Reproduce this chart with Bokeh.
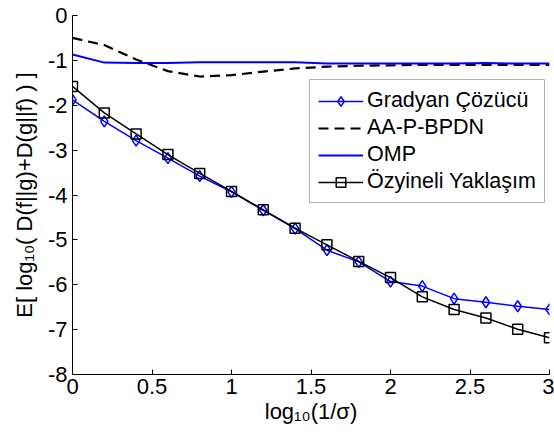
from bokeh.plotting import figure
from bokeh.models import Range1d, FixedTicker, Legend, LegendItem
from bokeh.embed import file_html
from bokeh.resources import INLINE

# ---- data ----
x_vals = [0.0, 0.2, 0.4, 0.6, 0.8, 1.0, 1.2, 1.4, 1.6, 1.8, 2.0, 2.2, 2.4, 2.6, 2.8, 3.0]
gradyan = [-1.88, -2.36, -2.79, -3.18, -3.58, -3.93, -4.34, -4.75, -5.23, -5.49,
           -5.93, -6.03, -6.31, -6.39, -6.48, -6.55]
aa_p_bpdn = [-0.50, -0.66, -0.98, -1.24, -1.36, -1.33, -1.25, -1.18, -1.14, -1.12,
             -1.11, -1.10, -1.10, -1.10, -1.10, -1.10]
omp = [-0.87, -1.05, -1.06, -1.06, -1.04, -1.04, -1.04, -1.04, -1.07, -1.07,
       -1.07, -1.07, -1.07, -1.06, -1.07, -1.07]
ozyineli = [-1.58, -2.17, -2.64, -3.10, -3.52, -3.92, -4.33, -4.74, -5.11, -5.48,
            -5.84, -6.27, -6.55, -6.74, -6.99, -7.18]

series_names = ["Gradyan Çözücü", "AA-P-BPDN", "OMP", "Özyineli Yaklaşım"]
x_ticks = [0, 0.5, 1, 1.5, 2, 2.5, 3]
x_tick_labels = ["0", "0.5", "1", "1.5", "2", "2.5", "3"]
y_ticks = [-8, -7, -6, -5, -4, -3, -2, -1, 0]
y_tick_labels = ["-8", "-7", "-6", "-5", "-4", "-3", "-2", "-1", "0"]
x_title = "log\u2081\u2080(1/σ)"
y_title = "E[ log\u2081\u2080( D(f||g)+D(g||f) ) ]"

FONT = "Liberation Sans"
BLUE = "#0000ff"

p = figure(width=554, height=437,
           x_range=Range1d(0, 3), y_range=Range1d(-8, 0),
           output_backend="svg", toolbar_location=None,
           min_border_left=72, min_border_right=5,
           min_border_top=15, min_border_bottom=63)
p.xgrid.visible = False
p.ygrid.visible = False
p.outline_line_color = None
p.background_fill_color = "white"
p.border_fill_color = "white"

for ax in (p.xaxis[0], p.yaxis[0]):
    ax.axis_line_color = "black"
    ax.axis_line_width = 1
    ax.major_tick_in = 5
    ax.major_tick_out = 0
    ax.minor_tick_in = 0
    ax.minor_tick_out = 0
    ax.major_tick_line_color = "black"
    ax.major_label_text_font = FONT
    ax.major_label_text_font_size = "22px"
    ax.major_label_text_color = "black"
    ax.axis_label_text_font = FONT
    ax.axis_label_text_font_size = "22px"
    ax.axis_label_text_font_style = "normal"
    ax.axis_label_text_color = "black"

p.xaxis.ticker = FixedTicker(ticks=x_ticks)
p.yaxis.ticker = FixedTicker(ticks=y_ticks)
p.xaxis.major_label_overrides = dict(zip(x_ticks, x_tick_labels))
p.yaxis.major_label_overrides = dict(zip(y_ticks, y_tick_labels))
p.xaxis.major_label_standoff = 4
p.yaxis.major_label_standoff = 5
p.xaxis.axis_label = x_title
p.yaxis.axis_label = y_title
p.xaxis.axis_label_standoff = 2
p.yaxis.axis_label_standoff = 8

# ---- series ----
g_line = p.line(x_vals, gradyan, line_color=BLUE, line_width=1.5)
g_mark = p.scatter(x_vals, gradyan, marker="diamond", size=11, line_color=BLUE,
                   fill_alpha=0, line_width=1.5)
aa_line = p.line(x_vals, aa_p_bpdn, line_color="black", line_width=2.2, line_dash="10 6")
omp_line = p.line(x_vals, omp, line_color=BLUE, line_width=2)
oz_line = p.line(x_vals, ozyineli, line_color="black", line_width=1.5)
oz_mark = p.scatter(x_vals, ozyineli, marker="square", size=10, line_color="black",
                    fill_alpha=0, line_width=1.5)

legend = Legend(items=[
    LegendItem(label=series_names[0], renderers=[g_line, g_mark]),
    LegendItem(label=series_names[1], renderers=[aa_line]),
    LegendItem(label=series_names[2], renderers=[omp_line]),
    LegendItem(label=series_names[3], renderers=[oz_line, oz_mark]),
], location=(237, 171))
legend.label_text_font = FONT
legend.label_text_font_size = "21.5px"
legend.label_text_color = "black"
legend.glyph_width = 45
legend.glyph_height = 24
legend.label_height = 24
legend.label_standoff = 4
legend.spacing = 2
legend.padding = 8
legend.margin = 0
legend.border_line_color = "#666666"
legend.border_line_width = 1
legend.background_fill_alpha = 1
legend.background_fill_color = "white"
p.add_layout(legend, "center")

open("out.html", "w").write(file_html(p, INLINE))
